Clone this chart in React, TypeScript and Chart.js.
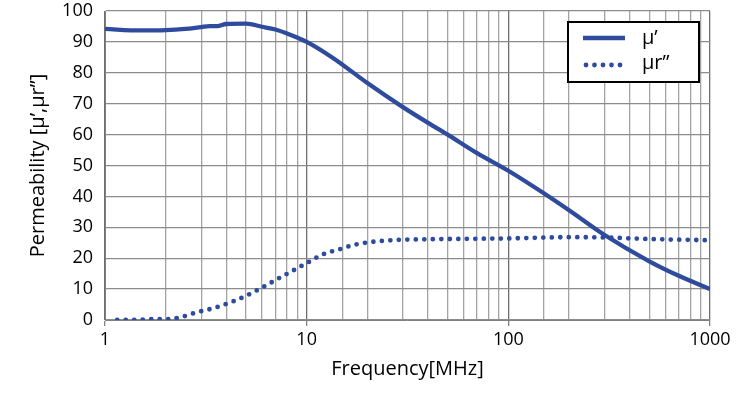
import React, { useEffect, useRef } from 'react';
import { Chart, registerables } from 'chart.js';

Chart.register(...registerables);

// μ' (solid)
const muFreq = [1, 1.5, 2, 2.5, 3, 3.3, 3.6, 4, 5, 6, 7, 8, 10, 13.5, 20, 30, 40, 50, 70, 100, 150, 200, 300, 500, 700, 1000];
const muVal = [94.2, 93.7, 93.8, 94.2, 94.8, 95.1, 95.1, 95.8, 95.9, 94.9, 94.0, 92.7, 90.0, 84.8, 76.7, 68.9, 63.8, 60.0, 54.0, 48.3, 41.0, 35.5, 27.5, 19.0, 14.3, 10.0];

// μr'' (dotted)
const murFreq = [1.15, 1.5, 1.77, 2.0, 2.15, 2.37, 2.86, 3.48, 4.19, 5.03, 5.98, 7.09, 8.44, 10, 12, 14.4, 17.4, 21.3, 26, 31, 50, 100, 200, 300, 500, 1000];
const murVal = [0, 0.1, 0.3, 0.2, 0.4, 0.9, 2.5, 3.9, 5.7, 7.9, 10.4, 13.1, 15.8, 18.4, 21.2, 22.8, 24.4, 25.3, 25.8, 26.0, 26.2, 26.4, 26.8, 26.7, 26.2, 25.8];

const xMajorTicks = [1, 10, 100, 1000];
const yMin = 0;
const yMax = 100;
const yStep = 10;

const seriesNames = ['\u03bc\u2019', '\u03bcr\u201d'];
const xTitle = 'Frequency[MHz]';
const yTitle = 'Permeability [\u03bc\u2019,\u03bcr\u201d]';

const BLUE = '#2E4B9E';
const FONT = '"Open Sans", sans-serif';

const isMajor = (v: number) => xMajorTicks.includes(v);

const boxLegend = {
  id: 'boxLegend',
  afterDraw(chart: any) {
    const { ctx, chartArea } = chart;
    const x0 = chartArea.right - 142;
    const y0 = chartArea.top + 11;
    const w = 131;
    const h = 60;
    ctx.save();
    ctx.fillStyle = '#ffffff';
    ctx.fillRect(x0, y0, w, h);
    ctx.strokeStyle = '#000000';
    ctx.lineWidth = 2;
    ctx.strokeRect(x0, y0, w, h);
    // solid sample
    ctx.strokeStyle = BLUE;
    ctx.lineWidth = 4.3;
    ctx.lineCap = 'butt';
    ctx.beginPath();
    ctx.moveTo(x0 + 15, y0 + 16);
    ctx.lineTo(x0 + 57, y0 + 16);
    ctx.stroke();
    // dotted sample
    ctx.lineWidth = 4.8;
    ctx.lineCap = 'round';
    ctx.setLineDash([0, 8.5]);
    ctx.beginPath();
    ctx.moveTo(x0 + 18, y0 + 43);
    ctx.lineTo(x0 + 57, y0 + 43);
    ctx.stroke();
    ctx.setLineDash([]);
    ctx.fillStyle = '#000000';
    ctx.font = '20px ' + FONT;
    ctx.textBaseline = 'middle';
    ctx.textAlign = 'left';
    ctx.fillText(seriesNames[0], x0 + 74, y0 + 16);
    ctx.fillText(seriesNames[1], x0 + 74, y0 + 41);
    ctx.restore();
  },
};

export default function App() {
  const ref = useRef<HTMLCanvasElement>(null);

  useEffect(() => {
    document.body.style.margin = '0';
    const canvas = ref.current;
    if (!canvas) return;
    const chart = new Chart(canvas, {
      type: 'line',
      data: {
        datasets: [
          {
            label: seriesNames[0],
            data: muFreq.map((f, i) => ({ x: f, y: muVal[i] })),
            borderColor: BLUE,
            backgroundColor: BLUE,
            borderWidth: 4.3,
            pointRadius: 0,
            cubicInterpolationMode: 'monotone',
          },
          {
            label: seriesNames[1],
            data: murFreq.map((f, i) => ({ x: f, y: murVal[i] })),
            borderColor: BLUE,
            backgroundColor: BLUE,
            borderWidth: 4.8,
            borderDash: [0, 8.5],
            borderCapStyle: 'round',
            pointRadius: 0,
            cubicInterpolationMode: 'monotone',
          },
        ],
      },
      options: {
        responsive: false,
        animation: false,
        layout: { padding: { left: 0, right: 40, top: 11, bottom: 0 } },
        plugins: {
          legend: { display: false },
          tooltip: { enabled: false },
        },
        scales: {
          x: {
            type: 'logarithmic',
            min: 1,
            max: 1000,
            afterFit: (s: any) => {
              s.height = 80;
              s.paddingLeft = 0;
              s.paddingRight = 0;
            },
            border: { color: '#808080', width: 1 },
            grid: {
              color: (c: any) => (c.tick && isMajor(c.tick.value) ? '#6f6f6f' : '#a3a3a3'),
              lineWidth: 1.3,
              drawTicks: true,
              tickLength: 6,
              tickColor: (c: any) => (c.tick && isMajor(c.tick.value) ? '#808080' : 'rgba(0,0,0,0)'),
            },
            ticks: {
              autoSkip: false,
              maxRotation: 0,
              padding: 3,
              color: '#000',
              font: { family: FONT, size: 18 },
              callback: (v: any) => (isMajor(Number(v)) ? String(v) : ''),
            },
            title: {
              display: true,
              text: xTitle,
              color: '#000',
              font: { family: FONT, size: 20 },
              padding: { top: 0, bottom: 19 },
            },
          },
          y: {
            min: yMin,
            max: yMax,
            afterFit: (s: any) => {
              s.width = 105;
              s.paddingTop = 0;
              s.paddingBottom = 0;
            },
            border: { color: '#808080', width: 1 },
            grid: {
              color: '#8c8c8c',
              lineWidth: 1.3,
              drawTicks: false,
            },
            ticks: {
              stepSize: yStep,
              padding: 12,
              color: '#000',
              font: { family: FONT, size: 18 },
            },
            title: {
              display: true,
              text: yTitle,
              color: '#000',
              font: { family: FONT, size: 20 },
              padding: { top: 26, bottom: 0 },
            },
          },
        },
      },
      plugins: [boxLegend],
    } as any);
    return () => chart.destroy();
  }, []);

  return <canvas ref={ref} width={750} height={400} style={{ display: 'block' }} />;
}
